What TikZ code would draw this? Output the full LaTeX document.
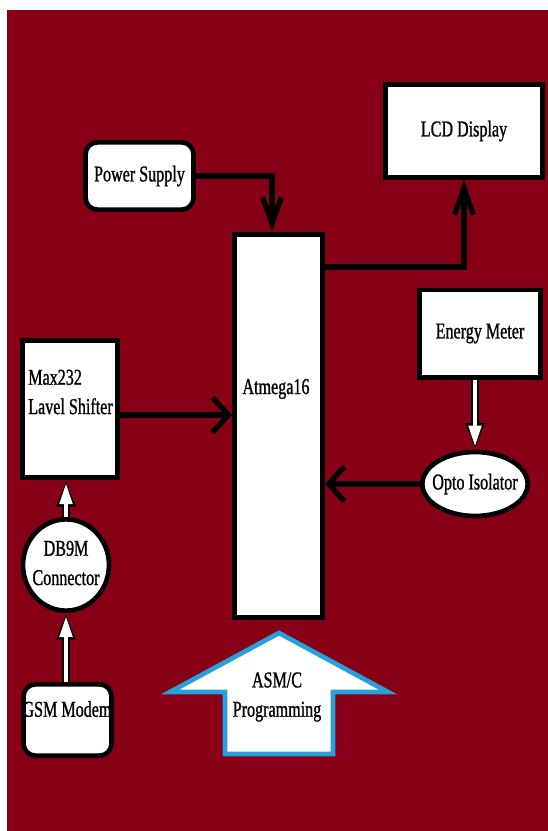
\documentclass[tikz,border=0pt]{standalone}
\usepackage{fontspec}
\setmainfont{Liberation Serif}[FakeStretch=0.71,FakeBold=1]
\usetikzlibrary{arrows.meta,shapes.geometric}

\definecolor{bgred}{RGB}{135,0,22}
\definecolor{progblue}{RGB}{40,160,218}

\tikzset{
  blk/.style={draw=black, fill=white, line width=3.5pt, inner sep=0.75pt, align=center},
  rblk/.style={blk, rounded corners=9pt},
  oval/.style={blk, ellipse},
  txt/.style={inner sep=0.75pt, align=center},
  harr/.style={line width=4pt, -{Straight Barb[length=12pt,width=26pt]}},
  varr/.style={line width=4pt, -{Straight Barb[length=20pt,width=14pt]}},
  hollow/.style={line width=3.5pt, white, shorten >=2pt, -{Triangle[length=16pt,width=9pt]},
    preaction={draw=black, line width=5.5pt, shorten >=0pt, -{Triangle[length=20pt,width=13pt]}}}
}

\begin{document}
\begin{tikzpicture}[x=0.75pt,y=0.75pt,yscale=-1,xscale=1,font=\fontsize{17}{22}\selectfont]
\useasboundingbox (0,0) rectangle (548,831);
%Shape: Background
\fill [bgred] (7,10) rectangle (548,831);

%Shape: Rounded Rect [Power Supply]
\draw (139.5,176) node [rblk, minimum width=81pt, minimum height=50.5pt] (ps) {Power Supply};
%Shape: Rectangle [LCD Display]
\draw (464,131) node [blk, minimum width=118pt, minimum height=70pt] (lcd) {LCD Display};
%Shape: Rectangle [Atmega16]
\draw (278.5,426) node [blk, minimum width=66pt, minimum height=287.5pt] (atm) {};
%Shape: Rectangle [Max232]
\draw (70,409) node [blk, minimum width=71.5pt, minimum height=103pt] (max) {};
%Shape: Rectangle [Energy Meter]
\draw (480,333.5) node [blk, minimum width=91pt, minimum height=65.5pt] (em) {Energy Meter};
%Shape: Ellipse [Opto Isolator]
\draw (475,484) node [oval, minimum width=79pt, minimum height=48pt] (opto) {};
%Shape: Ellipse [DB9M]
\draw (66,565) node [oval, minimum width=64.5pt, minimum height=68.5pt] (db9) {};
%Shape: Rounded Rect [GSM Modem]
\draw (67.5,720) node [rblk, minimum width=66pt, minimum height=53.5pt] (gsm) {};

%Shape: Up Arrow [ASM/C]
\draw [progblue, fill=white, line width=3.5pt, line join=miter] (279,633) -- (388,692) -- (333,692) -- (333,754) -- (225,754) -- (225,692) -- (170,692) -- cycle ;

% Text Node
\draw (276,389) node [txt] (tatm) {Atmega16};
% Text Node
\draw (27,392) node [txt, anchor=west, align=left] (tmax) {Max232\\Lavel Shifter};
% Text Node
\draw (opto) node [txt] (topto) {Opto Isolator};
% Text Node
\draw (66,563) node [txt] (tdb9) {DB9M\\Connector};
% Text Node
\draw (67,709) node [txt] (tgsm) {GSM Modem};
% Text Node
\draw (277,697) node [txt] (tprog) {ASM/C\\Programming};

%Connectors
\coordinate (c0) at (272,0);
\coordinate (c1) at (0,267);
\coordinate (c2) at (0,415);
\draw [varr] (ps.east) -| (atm.north -| c0);
\draw [varr] (atm.east |- c1) -| (lcd.south);
\draw [harr] (max.east |- c2) -- (atm.west |- c2);
\draw [harr] (opto.west) -- (opto.west -| atm.east);
\draw [hollow] (em.south -| opto.north) -- (opto.north);
\draw [hollow] (db9.north) -- (db9.north |- max.south);
\draw [hollow] (gsm.north -| db9.south) -- (db9.south);
\end{tikzpicture}
\end{document}
